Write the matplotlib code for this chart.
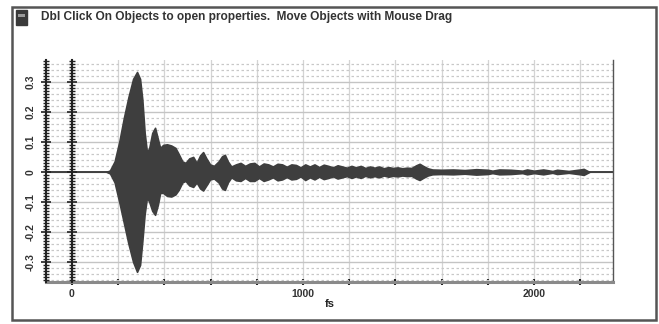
import matplotlib
matplotlib.use('Agg')
import matplotlib.pyplot as plt
import numpy as np
from matplotlib.ticker import MultipleLocator, FixedLocator
from matplotlib.patches import Rectangle

plt.rcParams['font.family'] = ['Liberation Sans', 'DejaVu Sans']

# envelope of the decaying signal (fs, upper, lower)
fs = [150, 165, 185, 205, 225, 245, 265, 282, 295, 305, 315, 325, 335, 348, 360, 372,
      382, 395, 412, 430, 448, 462, 478, 492, 508, 525, 540, 555, 568, 582, 598, 615,
      635, 650, 662, 675, 690, 710, 730, 750, 770, 790, 810, 830, 850, 870, 890, 910,
      930, 950, 970, 990, 1010, 1030, 1050, 1070, 1090, 1110, 1130, 1150, 1170, 1190,
      1210, 1230, 1250, 1270, 1290, 1310, 1330, 1350, 1370, 1390, 1410, 1430, 1450,
      1470, 1490, 1505, 1520, 1540, 1560, 1600, 1650, 1700, 1750, 1800, 1820, 1850,
      1900, 1950, 1970, 2000, 2040, 2080, 2100, 2150, 2200, 2215, 2230, 2240]
upper = [0.0, 0.005, 0.035, 0.10, 0.18, 0.25, 0.31, 0.333, 0.31, 0.24, 0.13, 0.065, 0.08,
         0.13, 0.147, 0.11, 0.08, 0.09, 0.092, 0.088, 0.08, 0.06, 0.035, 0.03, 0.045,
         0.05, 0.03, 0.055, 0.066, 0.045, 0.025, 0.02, 0.035, 0.052, 0.057, 0.035, 0.018,
         0.025, 0.03, 0.02, 0.028, 0.03, 0.018, 0.028, 0.025, 0.018, 0.027, 0.025, 0.017,
         0.025, 0.023, 0.015, 0.025, 0.018, 0.025, 0.016, 0.024, 0.02, 0.015, 0.022,
         0.018, 0.014, 0.02, 0.015, 0.02, 0.013, 0.018, 0.014, 0.018, 0.012, 0.016,
         0.013, 0.015, 0.012, 0.014, 0.013, 0.022, 0.027, 0.02, 0.012, 0.008, 0.007,
         0.008, 0.006, 0.009, 0.007, 0.004, 0.008, 0.007, 0.004, 0.008, 0.004, 0.008,
         0.003, 0.007, 0.003, 0.008, 0.01, 0.004, 0.0]
lower = [0.0, -0.005, -0.035, -0.10, -0.17, -0.24, -0.30, -0.333, -0.31, -0.23, -0.14,
         -0.085, -0.10, -0.13, -0.143, -0.11, -0.07, -0.07, -0.08, -0.082, -0.075, -0.06,
         -0.035, -0.03, -0.045, -0.05, -0.035, -0.055, -0.062, -0.045, -0.025, -0.022,
         -0.035, -0.055, -0.06, -0.035, -0.018, -0.028, -0.03, -0.02, -0.03, -0.03,
         -0.02, -0.03, -0.025, -0.018, -0.028, -0.025, -0.017, -0.025, -0.023, -0.015,
         -0.027, -0.018, -0.025, -0.016, -0.024, -0.02, -0.015, -0.022, -0.018, -0.014,
         -0.02, -0.015, -0.02, -0.013, -0.018, -0.014, -0.018, -0.012, -0.016, -0.013,
         -0.015, -0.012, -0.014, -0.013, -0.022, -0.027, -0.02, -0.012, -0.008, -0.007,
         -0.008, -0.006, -0.009, -0.007, -0.004, -0.008, -0.007, -0.004, -0.008, -0.004,
         -0.008, -0.003, -0.007, -0.003, -0.008, -0.01, -0.004, 0.0]

xticks = [0, 1000, 2000]
yticks = [-0.3, -0.2, -0.1, 0, 0.1, 0.2, 0.3]
yticklabels = ['-0.3', '-0.2', '-0.1', '0', '0.1', '0.2', '0.3']
title_text = 'Dbl Click On Objects to open properties.  Move Objects with Mouse Drag'

W, H = 659, 324
fig = plt.figure(figsize=(W / 100, H / 100), dpi=100)

def fx(px):
    return px / W

def fy(py):
    return 1 - py / H

# window frame
fig.patches.append(Rectangle((fx(12), fy(320)), fx(656) - fx(12), fy(7) - fy(320),
                             transform=fig.transFigure, fill=False,
                             edgecolor='#555555', linewidth=1.8))
# little icon
fig.patches.append(Rectangle((fx(16), fy(25)), fx(11), fy(10) - fy(25),
                             transform=fig.transFigure, facecolor='#3a3a3a',
                             edgecolor='#3a3a3a'))
fig.patches.append(Rectangle((fx(18), fy(17)), fx(7), fy(14) - fy(17),
                             transform=fig.transFigure, facecolor='#9a9a9a',
                             edgecolor='none'))
fig.text(fx(41), fy(17), title_text, fontsize=8.6, fontweight='bold', va='center',
         ha='left', color='#333333')

pos = [fx(46), fy(282), fx(613) - fx(46), fy(60) - fy(282)]
xmin, xmax = -112, 2342
ymin, ymax = -0.367, 0.373

# background axes: grid, signal, labels
ax = fig.add_axes(pos)
ax.set_xlim(xmin, xmax)
ax.set_ylim(ymin, ymax)
ax.yaxis.set_major_locator(FixedLocator(yticks))
ax.yaxis.set_minor_locator(MultipleLocator(0.02))
ax.xaxis.set_major_locator(FixedLocator(xticks))
ax.xaxis.set_minor_locator(MultipleLocator(200))
ax.grid(which='major', axis='y', color='#c4c4c4', linewidth=1.0)
ax.grid(which='minor', axis='y', color='#c8c8c8', linewidth=0.9, linestyle=(0, (2, 2)))
ax.grid(which='both', axis='x', color='#d4d4d4', linewidth=0.9)
ax.set_axisbelow(True)

ax.axhline(0, color='#333333', linewidth=1.3, zorder=2)
ax.fill_between(fs, lower, upper, color='#3e3e3e', linewidth=1.2,
                edgecolor='#3e3e3e', zorder=3)

ax.set_yticklabels(yticklabels)
for lab in ax.get_yticklabels():
    lab.set_rotation(90)
    lab.set_va('center')
    lab.set_fontweight('bold')
ax.tick_params(axis='y', which='both', left=False, labelsize=7.5, pad=4,
               labelcolor='#333333')
ax.tick_params(axis='x', which='major', direction='inout', length=4, width=1.5,
               color='#222222', labelsize=7.5, pad=3, labelcolor='#333333')
ax.tick_params(axis='x', which='minor', direction='inout', length=4, width=1.5,
               color='#222222')
ax.set_xticklabels([str(v) for v in xticks], fontweight='bold')
ax.set_xlabel('fs', fontsize=8, fontweight='bold', labelpad=0, color='#222222')

ax.spines['top'].set_visible(False)
ax.spines['left'].set_visible(False)
ax.spines['right'].set_color('#555555')
ax.spines['right'].set_linewidth(1.0)
ax.spines['bottom'].set_color('#8a8a8a')
ax.spines['bottom'].set_linewidth(2.2)

# overlay: the two tick-studded vertical axes (plot edge and x = 0)
ax2 = fig.add_axes(pos)
ax2.set_xlim(xmin, xmax)
ax2.set_ylim(ymin, ymax)
ax2.patch.set_visible(False)
ax2.spines['top'].set_visible(False)
ax2.spines['bottom'].set_visible(False)
ax2.spines['right'].set_position(('data', 0))
for s in ['left', 'right']:
    ax2.spines[s].set_color('#222222')
    ax2.spines[s].set_linewidth(1.5)
ax2.yaxis.set_major_locator(FixedLocator(yticks))
ax2.yaxis.set_minor_locator(MultipleLocator(0.01))
ax2.tick_params(axis='y', which='major', direction='inout', length=7, width=1.2,
                color='#222222', left=True, right=True,
                labelleft=False, labelright=False)
ax2.tick_params(axis='y', which='minor', direction='inout', length=4, width=1.0,
                color='#222222', left=True, right=True)
ax2.tick_params(axis='x', which='both', bottom=False, labelbottom=False)

fig.savefig('out.png', dpi=100)
